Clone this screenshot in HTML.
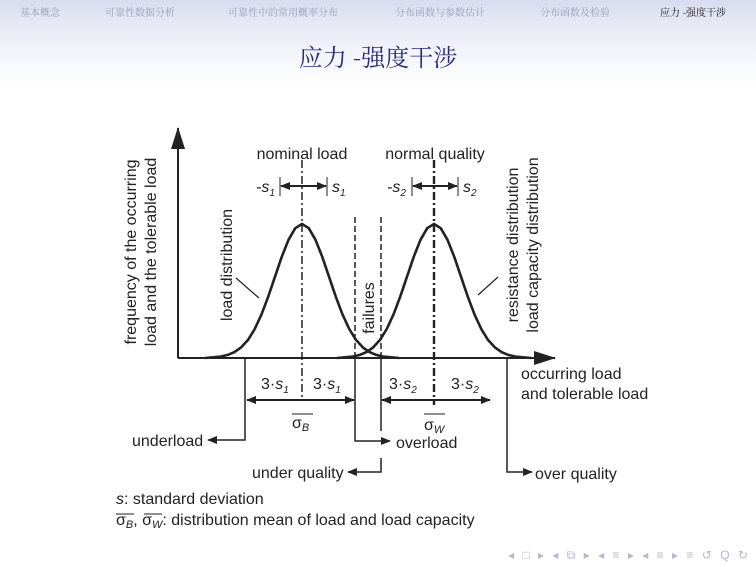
<!DOCTYPE html>
<html><head><meta charset="utf-8"><style>
html,body{margin:0;padding:0;background:#fff;}
body{width:756px;height:567px;overflow:hidden;position:relative;font-family:"Liberation Sans","Noto Sans CJK SC",sans-serif;}
.hdr{position:absolute;left:0;top:0;width:756px;height:85px;background:linear-gradient(#d9dcef 0px,#e6e8f4 24px,#f2f3f9 50px,#ffffff 85px);}
.nav{position:absolute;top:4px;font-size:10px;color:#9a9cb8;font-family:"Noto Serif CJK SC","Liberation Serif",serif;}
.title{position:absolute;top:38px;left:0;width:756px;text-align:center;font-size:24px;color:#2a2a80;font-family:"Noto Serif CJK SC","Liberation Serif",serif;}
</style></head><body>
<div class="hdr"></div>
<div class="nav" style="left:20px">基本概念</div>
<div class="nav" style="left:105px">可靠性数据分析</div>
<div class="nav" style="left:228px">可靠性中的常用概率分布</div>
<div class="nav" style="left:395px">分布函数与参数估计</div>
<div class="nav" style="left:540px">分布函数及检验</div>
<div class="nav" style="left:660px;color:#111">应力 -强度干涉</div>
<div class="title">应力 -强度干涉</div>
<svg width="756" height="567" style="position:absolute;left:0;top:0" font-family="Liberation Sans, Arial, sans-serif" fill="#222">
<defs><marker id="a" markerWidth="10" markerHeight="8" refX="9" refY="4" orient="auto" markerUnits="userSpaceOnUse"><path d="M0,0L10,4L0,8z" fill="#222"/></marker>
<marker id="b" markerWidth="22" markerHeight="14" refX="21" refY="7" orient="auto" markerUnits="userSpaceOnUse"><path d="M0,0L22,7L0,14z" fill="#222"/></marker></defs>
<g stroke="#222" fill="none">
<line x1="178" y1="358" x2="178" y2="128" stroke-width="2" marker-end="url(#b)"/>
<line x1="178" y1="358" x2="555" y2="358" stroke-width="2" marker-end="url(#b)"/>
<polyline stroke-width="2.6" stroke-linejoin="round" points="205,358 221,356.5 227.75,354.9 234.5,352.1 241.25,347.3 248,339.9 254.75,329 261.5,314.4 268.25,296.6 275,276.7 281.75,256.8 288.5,239.8 295.25,228.2 302,224 308.75,228.2 315.5,239.8 322.25,256.8 329,276.7 335.75,296.6 342.5,314.4 349.25,329 356,339.9 362.75,347.3 369.5,352.1 376.25,354.9 383,356.5 399,358"/>
<polyline stroke-width="2.6" stroke-linejoin="round" points="337,358 353,356.5 359.75,354.9 366.5,352.1 373.25,347.3 380,339.9 386.75,329 393.5,314.4 400.25,296.6 407,276.7 413.75,256.8 420.5,239.8 427.25,228.2 434,224 440.75,228.2 447.5,239.8 454.25,256.8 461,276.7 467.75,296.6 474.5,314.4 481.25,329 488,339.9 494.75,347.3 501.5,352.1 508.25,354.9 515,356.5 531,358"/>
<line x1="302" y1="160" x2="302" y2="400" stroke-width="1.5" stroke-dasharray="8,3,2,3"/>
<line x1="434" y1="160" x2="434" y2="405" stroke-width="2.4" stroke-dasharray="8,3,2,3"/>
<line x1="355" y1="217" x2="355" y2="358" stroke-width="1.5" stroke-dasharray="6,3"/>
<line x1="381" y1="217" x2="381" y2="358" stroke-width="1.5" stroke-dasharray="6,3"/>
<line x1="236" y1="278" x2="259" y2="298" stroke-width="1.2"/>
<line x1="498" y1="277" x2="478" y2="295" stroke-width="1.2"/>
<line x1="280" y1="177" x2="280" y2="196" stroke-width="1"/><line x1="327" y1="177" x2="327" y2="196" stroke-width="1"/>
<line x1="412" y1="177" x2="412" y2="196" stroke-width="1"/><line x1="458" y1="177" x2="458" y2="196" stroke-width="1"/>
<line x1="302" y1="186" x2="281" y2="186" stroke-width="2" marker-end="url(#a)"/><line x1="302" y1="186" x2="326" y2="186" stroke-width="2" marker-end="url(#a)"/>
<line x1="434" y1="186" x2="413" y2="186" stroke-width="2" marker-end="url(#a)"/><line x1="434" y1="186" x2="457" y2="186" stroke-width="2" marker-end="url(#a)"/>
<line x1="302" y1="400" x2="247" y2="400" stroke-width="2" marker-end="url(#a)"/><line x1="302" y1="400" x2="354" y2="400" stroke-width="2" marker-end="url(#a)"/>
<line x1="434" y1="400" x2="382" y2="400" stroke-width="2" marker-end="url(#a)"/><line x1="434" y1="400" x2="490" y2="400" stroke-width="2" marker-end="url(#a)"/>
<polyline points="245,358 245,440 208,440" stroke-width="1.5" marker-end="url(#a)"/>
<polyline points="355,358 355,441 390,441" stroke-width="1.5" marker-end="url(#a)"/>
<polyline points="381,358 381,431" stroke-width="1.5"/><polyline points="381,458 381,472 348,472" stroke-width="1.5" marker-end="url(#a)"/>
<polyline points="507,358 507,472 532,472" stroke-width="1.5" marker-end="url(#a)"/>
<line x1="292" y1="414" x2="313" y2="414" stroke-width="1"/><line x1="424" y1="414" x2="445" y2="414" stroke-width="1"/>
<line x1="116" y1="514" x2="134" y2="514" stroke-width="1"/><line x1="144" y1="514" x2="162" y2="514" stroke-width="1"/>
</g>
<g font-size="16">
<text transform="translate(136,252) rotate(-90)" text-anchor="middle">frequency of the occurring</text>
<text transform="translate(156,252) rotate(-90)" text-anchor="middle">load and the tolerable load</text>
<text transform="translate(232,265) rotate(-90)" text-anchor="middle">load distribution</text>
<text transform="translate(374,308) rotate(-90)" text-anchor="middle">failures</text>
<text transform="translate(518,245) rotate(-90)" text-anchor="middle">resistance distribution</text>
<text transform="translate(538,245) rotate(-90)" text-anchor="middle">load capacity distribution</text>
<text x="302" y="159" text-anchor="middle">nominal load</text>
<text x="435" y="159" text-anchor="middle">normal quality</text>
<text x="256" y="192" font-style="italic">-s<tspan font-size="10" dy="4">1</tspan></text>
<text x="332" y="192" font-style="italic">s<tspan font-size="10" dy="4">1</tspan></text>
<text x="387" y="192" font-style="italic">-s<tspan font-size="10" dy="4">2</tspan></text>
<text x="463" y="192" font-style="italic">s<tspan font-size="10" dy="4">2</tspan></text>
<text x="261" y="389">3·<tspan font-style="italic">s</tspan><tspan font-size="10" dy="4" font-style="italic">1</tspan></text>
<text x="313" y="389">3·<tspan font-style="italic">s</tspan><tspan font-size="10" dy="4" font-style="italic">1</tspan></text>
<text x="389" y="389">3·<tspan font-style="italic">s</tspan><tspan font-size="10" dy="4" font-style="italic">2</tspan></text>
<text x="451" y="389">3·<tspan font-style="italic">s</tspan><tspan font-size="10" dy="4" font-style="italic">2</tspan></text>
<text x="292" y="428">σ<tspan font-size="11" dy="3" font-style="italic">B</tspan></text>
<text x="424" y="430">σ<tspan font-size="11" dy="3" font-style="italic">W</tspan></text>
<text x="521" y="379">occurring load</text>
<text x="521" y="399">and tolerable load</text>
<text x="132" y="446">underload</text>
<text x="396" y="448">overload</text>
<text x="252" y="478">under quality</text>
<text x="535" y="479">over quality</text>
<text x="116" y="504"><tspan font-style="italic">s</tspan>: standard deviation</text>
<text x="116" y="525">σ<tspan font-size="11" dy="3" font-style="italic">B</tspan><tspan dy="-3">, σ</tspan><tspan font-size="11" dy="3" font-style="italic">W</tspan><tspan dy="-3">: distribution mean of load and load capacity</tspan></text>
</g>
<text x="508" y="559" font-size="12" fill="#b8b8cc" textLength="240">◂ □ ▸  ◂ ⧉ ▸  ◂ ≡ ▸  ◂ ≡ ▸    ≡   ↺ Q ↻</text>
</svg>
</body></html>
